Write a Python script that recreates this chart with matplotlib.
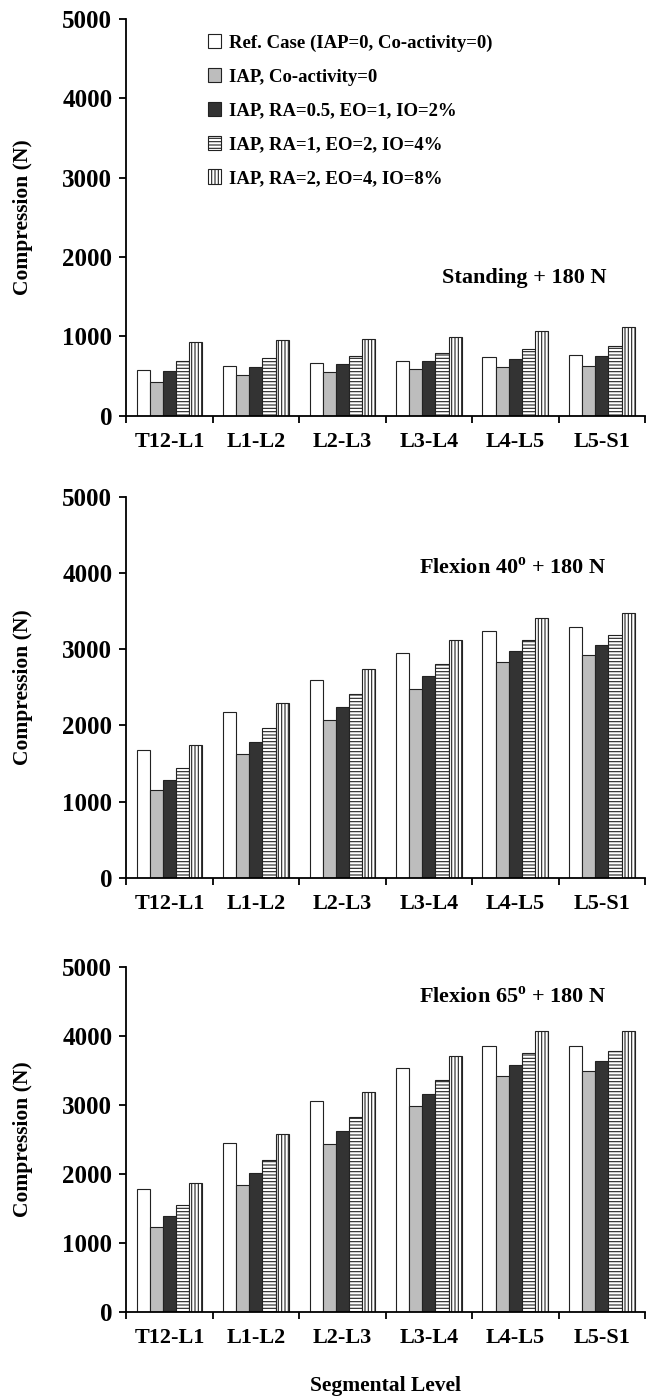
import matplotlib
matplotlib.use('Agg')
import matplotlib.pyplot as plt
import numpy as np

# --- Datos ---
niveles = ['T12-L1', 'L1-L2', 'L2-L3', 'L3-L4', 'L4-L5', 'L5-S1']
casos = ['Ref. Case (IAP=0, Co-activity=0)',
         'IAP, Co-activity=0',
         'IAP, RA=0.5, EO=1, IO=2%',
         'IAP, RA=1, EO=2, IO=4%',
         'IAP, RA=2, EO=4, IO=8%']

# Standing + 180 N
standing_ref = [575, 625, 667, 696, 738, 763]
standing_iap = [430, 509, 555, 592, 617, 630]
standing_ra05 = [563, 613, 655, 688, 721, 750]
standing_ra1 = [688, 730, 750, 792, 842, 880]
standing_ra2 = [930, 955, 972, 997, 1067, 1117]

# Flexion 40 + 180 N
flex40_ref = [1673, 2174, 2592, 2954, 3242, 3289]
flex40_iap = [1146, 1621, 2074, 2484, 2832, 2919]
flex40_ra05 = [1290, 1786, 2239, 2644, 2971, 3059]
flex40_ra1 = [1438, 1961, 2414, 2810, 3115, 3193]
flex40_ra2 = [1743, 2292, 2741, 3115, 3407, 3472]

# Flexion 65 + 180 N
flex65_ref = [1787, 2449, 3053, 3531, 3854, 3854]
flex65_iap = [1232, 1831, 2439, 2980, 3415, 3492]
flex65_ra05 = [1386, 2019, 2623, 3159, 3574, 3632]
flex65_ra1 = [1546, 2198, 2826, 3357, 3753, 3787]
flex65_ra2 = [1874, 2579, 3188, 3714, 4067, 4067]

paneles = [
    ('Standing + 180 N', [standing_ref, standing_iap, standing_ra05, standing_ra1, standing_ra2]),
    (r'Flexion 40$^{\mathbf{o}}$ + 180 N', [flex40_ref, flex40_iap, flex40_ra05, flex40_ra1, flex40_ra2]),
    (r'Flexion 65$^{\mathbf{o}}$ + 180 N', [flex65_ref, flex65_iap, flex65_ra05, flex65_ra1, flex65_ra2]),
]

# --- Estilo ---
plt.rcParams['font.family'] = ['Liberation Serif', 'DejaVu Serif']
plt.rcParams['font.weight'] = 'bold'
plt.rcParams['axes.labelweight'] = 'bold'
plt.rcParams['mathtext.fontset'] = 'custom'
plt.rcParams['mathtext.rm'] = 'Liberation Serif'
plt.rcParams['mathtext.bf'] = 'Liberation Serif:bold'
plt.rcParams['hatch.linewidth'] = 0.8

colores = ['white', '#bdbdbd', '#333333', 'white', 'white']
tramas = [None, None, None, '-----', '|||||']

# posiciones de los ejes (izq, abajo, ancho, alto) en fraccion de figura
cajas = [
    (0.195, 0.703, 0.802, 0.2836),
    (0.195, 0.373, 0.802, 0.2721),
    (0.195, 0.063, 0.802, 0.2464),
]
titulos_y = [278, 568, 997]

fig = plt.figure(figsize=(6.47, 14), dpi=100)

x = np.arange(len(niveles))
ancho = 0.152
inicio = 0.12

for k, (titulo, series) in enumerate(paneles):
    ax = fig.add_axes(cajas[k])
    for j, valores in enumerate(series):
        ax.bar(x + inicio + j * ancho, valores, width=ancho, align='edge',
               color=colores[j], hatch=tramas[j], edgecolor='#222222',
               linewidth=0.8, label=casos[j])

    ax.set_xlim(0, len(niveles))
    ax.set_ylim(0, 5000)
    ax.set_yticks(range(0, 5001, 1000))
    ax.tick_params(axis='y', labelsize=18, length=5, width=1.3, pad=5)

    # marcas en los limites de cada nivel, etiquetas en el centro
    ax.set_xticks(np.arange(0, len(niveles) + 1))
    ax.set_xticklabels([])
    ax.set_xticks(x + 0.5, minor=True)
    ax.set_xticklabels(niveles, minor=True, fontsize=16)
    ax.tick_params(axis='x', which='major', length=5, width=1.3)
    ax.tick_params(axis='x', which='minor', length=0, pad=12)

    for lado in ['top', 'right']:
        ax.spines[lado].set_visible(False)
    for lado in ['left', 'bottom']:
        ax.spines[lado].set_linewidth(1.3)

    ax.set_ylabel('Compression (N)', fontsize=15.5, fontweight='bold')
    ax.yaxis.set_label_coords(-0.18, 0.5)

    fig.text(606 / 647, 1 - titulos_y[k] / 1400, titulo, ha='right', va='center',
             fontsize=16, fontweight='bold')

    if k == 0:
        ax.legend(loc='upper left', bbox_to_anchor=(208 / 647, 1 - 34 / 1400),
                  bbox_transform=fig.transFigure, frameon=False, fontsize=13.5,
                  handlelength=0.7, handleheight=0.8, handletextpad=0.4,
                  labelspacing=0.86, borderpad=0, borderaxespad=0)
    if k == 2:
        ax.set_xlabel('Segmental Level', fontsize=15.5, fontweight='bold', labelpad=20)

plt.savefig('out.png', dpi=100)
